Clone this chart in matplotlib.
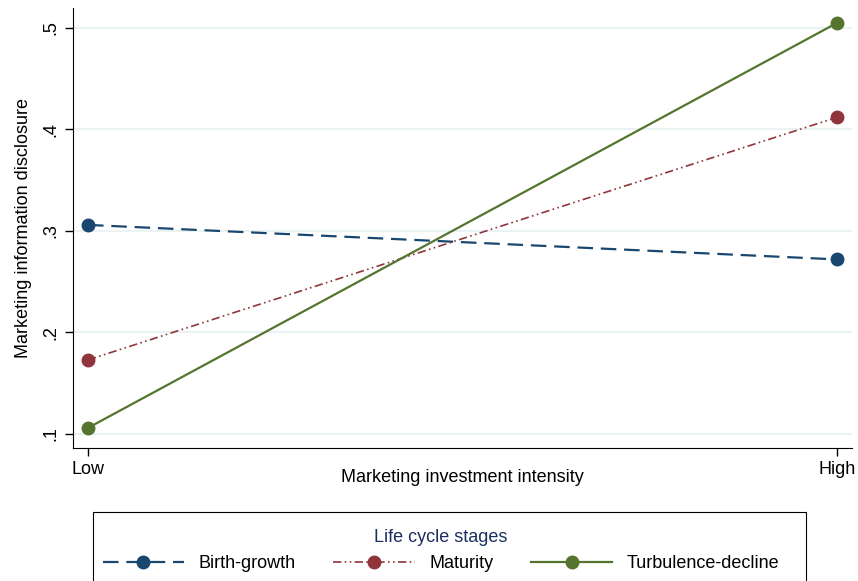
import matplotlib
matplotlib.use('Agg')
import matplotlib.pyplot as plt
from matplotlib.patches import Rectangle

plt.rcParams['font.family'] = ['Liberation Sans', 'DejaVu Sans']

# Datos
niveles = ['Low', 'High']
etapas = ['Birth-growth', 'Maturity', 'Turbulence-decline']
birth_growth = [0.306, 0.272]
maturity = [0.173, 0.412]
turbulence = [0.106, 0.505]
y_ticks = [0.1, 0.2, 0.3, 0.4, 0.5]
y_tick_labels = ['.1', '.2', '.3', '.4', '.5']

fig = plt.figure(figsize=(8.58, 5.81), dpi=100)
ax = fig.add_axes([73/858, 1 - 448/581, (852 - 73)/858, (448 - 8)/581])

x = [0, 1]
ax.plot(x, birth_growth, color='#1a476f', lw=1.6, dashes=(7, 3.5), marker='o', ms=9, label=etapas[0])
ax.plot(x, maturity, color='#90353b', lw=1.2, dashes=(5, 2, 1, 2, 1, 2), marker='o', ms=9, label=etapas[1])
ax.plot(x, turbulence, color='#55752f', lw=1.6, ls='-', marker='o', ms=9, label=etapas[2])

ax.set_xlim(-0.02, 1.02)
ax.set_ylim(0.0862, 0.5197)
ax.set_yticks(y_ticks)
ax.set_yticklabels(y_tick_labels, rotation=90, va='center', fontsize=13)
ax.set_xticks(x)
ax.set_xticklabels(niveles, fontsize=13)
ax.grid(axis='y', color='#eaf2f3', lw=1.5)
ax.set_axisbelow(True)
for s in ['top', 'right']:
    ax.spines[s].set_visible(False)
ax.tick_params(length=6, width=1)
ax.set_xlabel('Marketing investment intensity', fontsize=13, va='center')
ax.xaxis.set_label_coords(0.5, -(478 - 448) / 440)
ax.set_ylabel('Marketing information disclosure', fontsize=13, labelpad=8)

# Leyenda
fig.patches.append(Rectangle((93/858, -0.05), (806 - 93)/858, 0.05 + (581 - 512)/581,
                             transform=fig.transFigure, fill=False, ec='black', lw=0.8))
leg = fig.legend(loc='upper center', bbox_to_anchor=(441/858, 1 - 513/581), ncol=3, frameon=False,
                 title='Life cycle stages', fontsize=13, title_fontsize=13, handlelength=4.5,
                 columnspacing=2.1, handletextpad=0.8)
leg.get_title().set_color('#1a2f5e')

fig.savefig('out.png', dpi=100)
